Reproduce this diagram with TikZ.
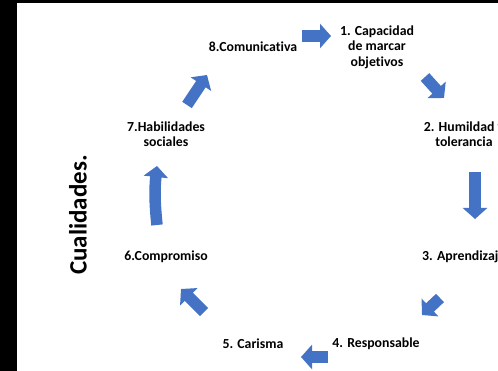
\documentclass[tikz,border=0pt]{standalone}
\usepackage{fontspec}
\setmainfont{Carlito}[Ligatures=NoCommon]
\usepackage{xcolor}
\usepackage{tikz}
\usetikzlibrary{arrows.meta}
\definecolor{arrowblue}{HTML}{4472C4}

\begin{document}
\begin{tikzpicture}[x=1pt, y=-1pt,
	lbl/.style={inner sep=0pt, align=center, font=\bfseries\fontsize{13.8pt}{15.5pt}\selectfont},
	flow/.style={draw=arrowblue, line width=11.5pt, -{Triangle[width=24pt, length=11pt]}}]
			\useasboundingbox (0,0) rectangle (498,371);
			\clip (0,0) rectangle (498,371);
			\fill[black] (0,0) rectangle (17,371);
			\fill[black] (0,0) rectangle (498,3);
			% the eight qualities
			\node[lbl] (q1) at (377,47) {1. Capacidad\\de marcar\\objetivos};
			\node[lbl] (q2) at (464,134) {2. Humildad y\\tolerancia};
			\node[lbl, anchor=west] (q3) at (422,257) {3. Aprendizaje};
			\node[lbl] (q4) at (376,344) {4. Responsable};
			\node[lbl] (q5) at (253,344) {5. Carisma};
			\node[lbl] (q6) at (166,257) {6.Compromiso};
			\node[lbl] (q7) at (166,134) {7.Habilidades\\sociales};
			\node[lbl] (q8) at (253,47) {8.Comunicativa};
			\node[inner sep=0pt, rotate=90, font=\bfseries\fontsize{25pt}{30pt}\selectfont] (title) at (78,215) {Cualidades.};
			% block arrows
			\foreach \aName/\xa/\ya/\xb/\yb in {a81/302/36/331/36, a12/425/77/444/98, a23/475/172/475/219, a34/440/298/422/315, a45/328/357/301/357, a56/204/312/181/289, a78/187/105/207/75}
			{
				\coordinate (\aName-s) at (\xa,\ya);
				\coordinate (\aName-e) at (\xb,\yb);
				\draw[flow] (\aName-s) -- (\aName-e);
			}
			\coordinate (a67-s) at (157,225);
			\coordinate (a67-e) at (157,166);
			\draw[flow] (a67-s) to[bend left=6] (a67-e);
		\end{tikzpicture}
\end{document}
